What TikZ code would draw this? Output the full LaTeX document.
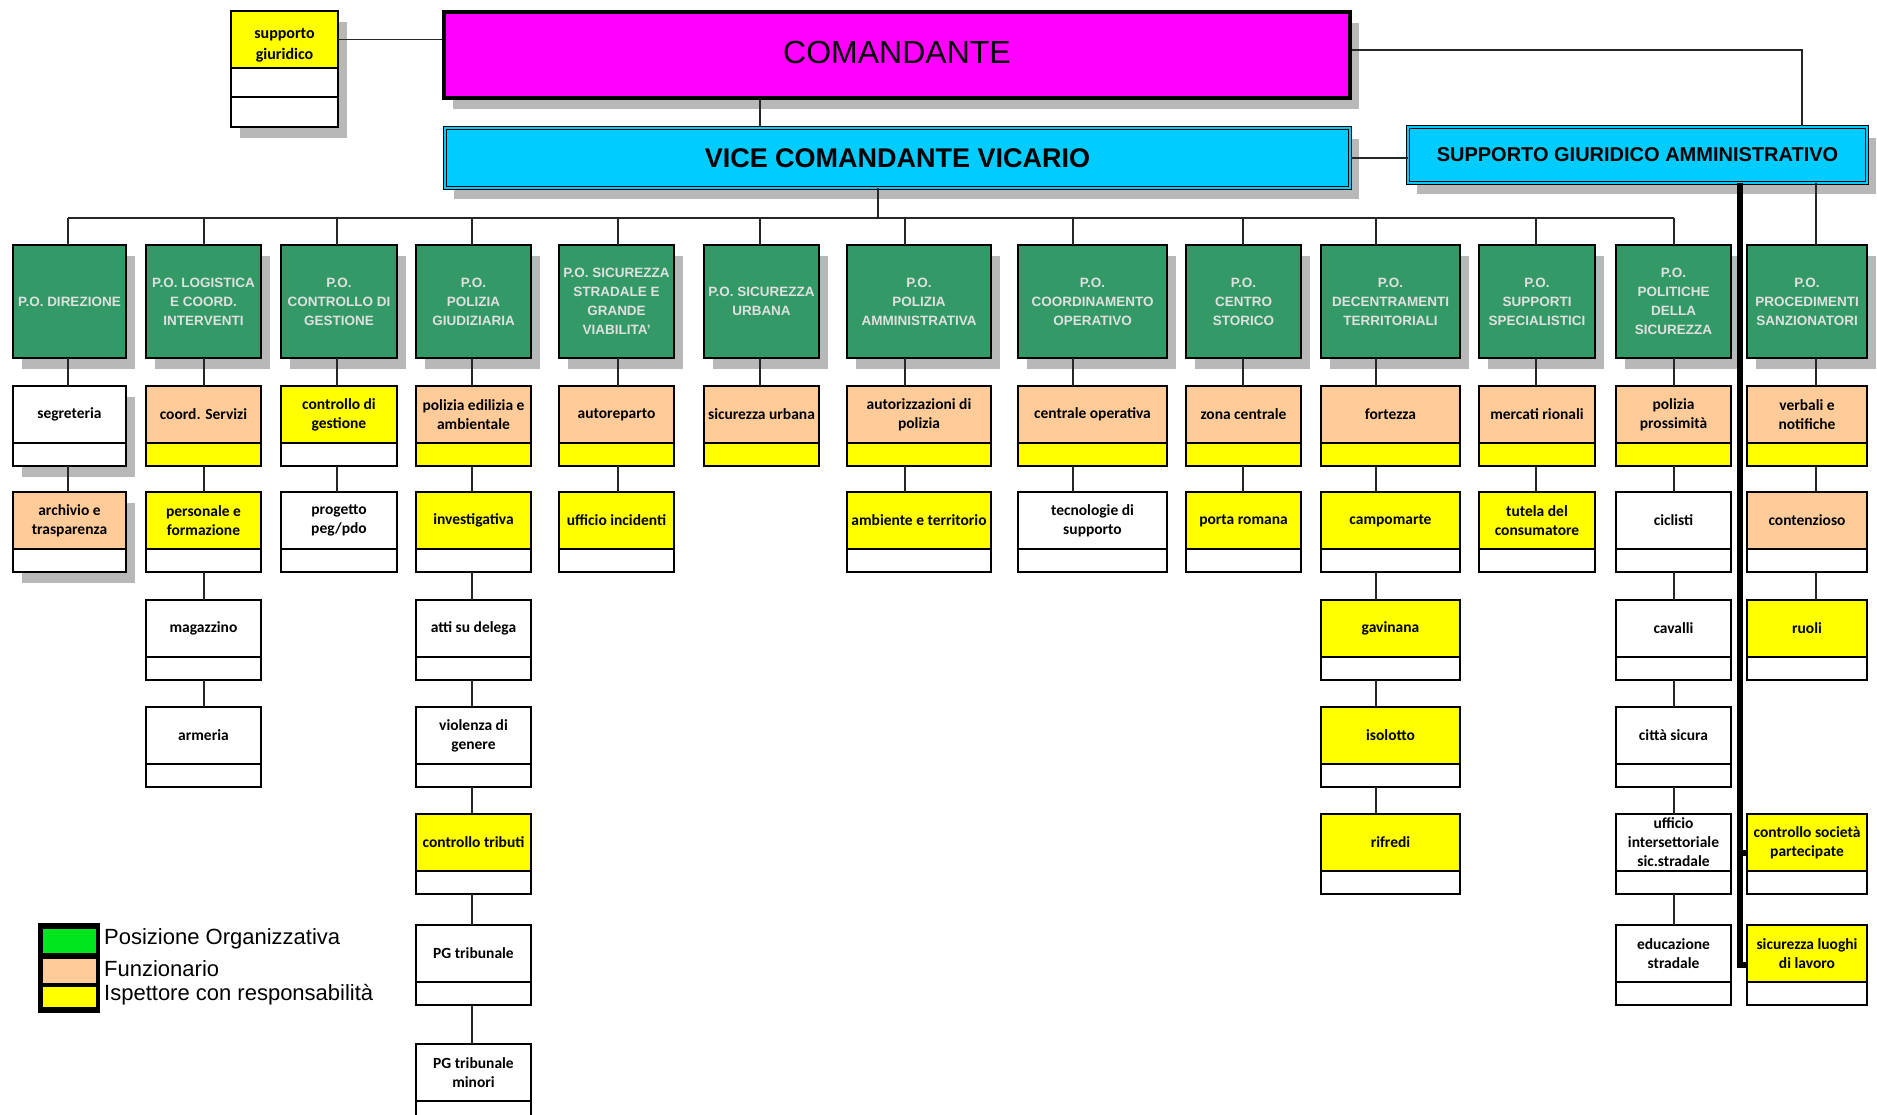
\documentclass[tikz,border=0pt]{standalone}
\usepackage{fontspec}
\setmainfont{Liberation Sans}
\newfontfamily\calibfont{Carlito}
\usetikzlibrary{shadows}
\definecolor{pogreen}{RGB}{51,153,102}
\definecolor{peach}{RGB}{255,204,153}
\definecolor{hiyellow}{RGB}{255,255,0}
\definecolor{magentabox}{RGB}{255,0,255}
\definecolor{cyanbox}{RGB}{0,204,255}
\definecolor{leggreen}{RGB}{0,230,30}

\tikzset{
  conn/.style={draw=black!85, line width=1.5pt},
  thickline/.style={draw=black, line width=6pt},
  boxshadow/.style={drop shadow={shadow xshift=9pt, shadow yshift=-11pt, fill=black!28, opacity=1}},
  pobox/.style={draw=black, line width=1.5pt, fill=pogreen, text=white!88!black, align=center,
    font=\bfseries\fontsize{13.5}{19}\selectfont, minimum height=113, inner sep=0pt, outer sep=0pt, boxshadow},
  mainpart/.style={draw=black, line width=1.5pt, anchor=north, minimum height=57, inner sep=0pt, outer sep=0pt,
    align=center, font=\calibfont\bfseries\fontsize{15.5}{19}\selectfont},
  strippart/.style={draw=black, line width=1.5pt, anchor=north, minimum height=23, inner sep=0pt, outer sep=0pt},
  legtext/.style={anchor=west, inner sep=0pt, font=\fontsize{22}{24}\selectfont},
}

% sub-unit: [opts]{name}{x}{width}{ytop}{fill}{strip fill}{text}
\newcommand{\orgbox}[8][]{%
  \node[mainpart, fill=#6, minimum width=#4, #1] (#2) at (#3,#5) {#8};
  \node[strippart, fill=#7, minimum width=#4, #1] (#2s) at (#2.south) {};
}

\begin{document}
\begin{tikzpicture}[x=1pt, y=-1pt]
\useasboundingbox (0,0) rectangle (1877,1115);
\fill[white] (0,0) rectangle (1877,1115);

% Top
\node[draw, line width=4pt, fill=magentabox, minimum width=906, minimum height=86, text depth=6pt,
  font=\fontsize{32}{36}\selectfont, boxshadow] (cmd) at (897,55) {COMANDANTE};
\node[draw=black, double=cyanbox, double distance=2pt, line width=1pt, fill=cyanbox,
  minimum width=905, minimum height=60, font=\bfseries\fontsize{27}{30}\selectfont, boxshadow] (vice) at (897.5,158) {VICE COMANDANTE VICARIO};
\node[draw=black, double=cyanbox, double distance=2pt, line width=1pt, fill=cyanbox,
  minimum width=459, minimum height=56, font=\bfseries\fontsize{20}{24}\selectfont, boxshadow] (sga) at (1637.5,155) {SUPPORTO GIURIDICO AMMINISTRATIVO};
\node[mainpart, fill=hiyellow, minimum width=107, boxshadow,
  label={[align=center, inner sep=0pt, yshift=-6pt, font=\calibfont\bfseries\fontsize{16}{21}\selectfont]center:supporto\\giuridico}] (sg) at (284.5,11) {};
\node[strippart, fill=white, minimum width=107, minimum height=29, boxshadow] (sgs) at (sg.south) {};
\node[strippart, fill=white, minimum width=107, minimum height=30, boxshadow] (sgt) at (sgs.south) {};

% P.O. boxes
\foreach \i/\cx/\w/\dx/\txt in {
  1/69.5/113/68/{P.O. DIREZIONE},
  2/203.5/115/204/{P.O. LOGISTICA\\E COORD.\\INTERVENTI},
  3/339/116/337/{P.O.\\CONTROLLO DI\\GESTIONE},
  4/473.5/115/472/{P.O.\\POLIZIA\\GIUDIZIARIA},
  5/616.5/115/618/{P.O. SICUREZZA\\STRADALE E\\GRANDE\\VIABILITA'},
  6/761.5/115/760/{P.O. SICUREZZA\\URBANA},
  7/919/144/905/{P.O.\\POLIZIA\\AMMINISTRATIVA},
  8/1092.5/149/1073/{P.O.\\COORDINAMENTO\\OPERATIVO},
  9/1243.5/115/1243/{P.O.\\CENTRO\\STORICO},
  10/1390.5/139/1376/{P.O.\\DECENTRAMENTI\\TERRITORIALI},
  11/1537/116/1536/{P.O.\\SUPPORTI\\SPECIALISTICI},
  12/1673.5/115/1674/{P.O.\\POLITICHE\\DELLA\\SICUREZZA},
  13/1807/120/1816/{P.O.\\PROCEDIMENTI\\SANZIONATORI}}{
  \node[pobox, minimum width=\w] (g\i) at (\cx,301.5) {\txt};
  \coordinate (k\i) at (\dx,218);
}

% Units
\orgbox[boxshadow]{seg}{69.5}{113}{386}{white}{white}{segreteria}
\orgbox[boxshadow]{arch}{69.5}{113}{492}{peach}{white}{archivio e\\trasparenza}
\orgbox{coord}{203.5}{115}{386}{peach}{hiyellow}{coord. Servizi}
\orgbox{pers}{203.5}{115}{492}{hiyellow}{white}{personale e\\formazione}
\orgbox{mag}{203.5}{115}{600}{white}{white}{magazzino}
\orgbox{arm}{203.5}{115}{707}{white}{white}{armeria}
\orgbox{cdg}{339}{116}{386}{hiyellow}{white}{controllo di\\gestione}
\orgbox{peg}{339}{116}{492}{white}{white}{progetto\\peg/pdo}
\orgbox{edil}{473.5}{115}{386}{peach}{hiyellow}{polizia edilizia e\\ambientale}
\orgbox{inv}{473.5}{115}{492}{hiyellow}{white}{investigativa}
\orgbox{atti}{473.5}{115}{600}{white}{white}{atti su delega}
\orgbox{viol}{473.5}{115}{707}{white}{white}{violenza di\\genere}
\orgbox{trib}{473.5}{115}{814}{hiyellow}{white}{controllo tributi}
\orgbox{pgt}{473.5}{115}{925}{white}{white}{PG tribunale}
\orgbox{pgm}{473.5}{115}{1044}{white}{white}{PG tribunale\\minori}
\orgbox{autor}{616.5}{115}{386}{peach}{hiyellow}{autoreparto}
\orgbox{inc}{616.5}{115}{492}{hiyellow}{white}{ufficio incidenti}
\orgbox{securb}{761.5}{115}{386}{peach}{hiyellow}{sicurezza urbana}
\orgbox{autpol}{919}{144}{386}{peach}{hiyellow}{autorizzazioni di\\polizia}
\orgbox{amb}{919}{144}{492}{hiyellow}{white}{ambiente e territorio}
\orgbox{centr}{1092.5}{149}{386}{peach}{hiyellow}{centrale operativa}
\orgbox{tecn}{1092.5}{149}{492}{white}{white}{tecnologie di\\supporto}
\orgbox{zona}{1243.5}{115}{386}{peach}{hiyellow}{zona centrale}
\orgbox{porta}{1243.5}{115}{492}{hiyellow}{white}{porta romana}
\orgbox{fort}{1390.5}{139}{386}{peach}{hiyellow}{fortezza}
\orgbox{campo}{1390.5}{139}{492}{hiyellow}{white}{campomarte}
\orgbox{gavi}{1390.5}{139}{600}{hiyellow}{white}{gavinana}
\orgbox{isol}{1390.5}{139}{707}{hiyellow}{white}{isolotto}
\orgbox{rifr}{1390.5}{139}{814}{hiyellow}{white}{rifredi}
\orgbox{merc}{1537}{116}{386}{peach}{hiyellow}{mercati rionali}
\orgbox{tutela}{1537}{116}{492}{hiyellow}{white}{tutela del\\consumatore}
\orgbox{pross}{1673.5}{115}{386}{peach}{hiyellow}{polizia\\prossimità}
\orgbox{cicl}{1673.5}{115}{492}{white}{white}{ciclisti}
\orgbox{cav}{1673.5}{115}{600}{white}{white}{cavalli}
\orgbox{citta}{1673.5}{115}{707}{white}{white}{città sicura}
\orgbox{uff}{1673.5}{115}{814}{white}{white}{ufficio\\intersettoriale\\sic.stradale}
\orgbox{edu}{1673.5}{115}{925}{white}{white}{educazione\\stradale}
\orgbox{verb}{1807}{120}{386}{peach}{hiyellow}{verbali e\\notifiche}
\orgbox{cont}{1807}{120}{492}{peach}{white}{contenzioso}
\orgbox{ruoli}{1807}{120}{600}{hiyellow}{white}{ruoli}
\orgbox{soc}{1807}{120}{814}{hiyellow}{white}{controllo società\\partecipate}
\orgbox{luoghi}{1807}{120}{925}{hiyellow}{white}{sicurezza luoghi\\di lavoro}

% Connectors
\coordinate (cv) at (760,0);
\coordinate (cs) at (1802,0);
\coordinate (vb) at (878,218);
\coordinate (tk) at (1740,0);
\draw[conn] (sg.east) -- (sg.east -| cmd.west);
\draw[conn] (cmd.south -| cv) -- (vice.north -| cv);
\draw[conn] ([yshift=5pt]cmd.east) -| (sga.north -| cs);
\draw[conn] (vice.east) -- (vice.east -| sga.west);
\draw[conn] (vice.south -| vb) -- (vb);
\draw[conn] (k1) -- (k12);
\foreach \i in {1,...,12}
  \draw[conn] (k\i) -- (g\i.north -| k\i);
\draw[conn] (sga.south -| k13) -- (g13.north -| k13);
\foreach \a/\b/\k in {g1/seg/1, segs/arch/1,
  g2/coord/2, coords/pers/2, perss/mag/2, mags/arm/2,
  g3/cdg/3, cdgs/peg/3,
  g4/edil/4, edils/inv/4, invs/atti/4, attis/viol/4, viols/trib/4, tribs/pgt/4, pgts/pgm/4,
  g5/autor/5, autors/inc/5, g6/securb/6, g7/autpol/7, autpols/amb/7,
  g8/centr/8, centrs/tecn/8, g9/zona/9, zonas/porta/9,
  g10/fort/10, forts/campo/10, campos/gavi/10, gavis/isol/10, isols/rifr/10,
  g11/merc/11, mercs/tutela/11,
  g12/pross/12, prosss/cicl/12, cicls/cav/12, cavs/citta/12, cittas/uff/12, uffs/edu/12,
  g13/verb/13, verbs/cont/13, conts/ruoli/13}
  \draw[conn] (\a.south -| k\k) -- (\b.north -| k\k);
\coordinate (socin) at ([yshift=-10pt]soc.west);
\coordinate (luoin) at ([yshift=-11pt]luoghi.west);
\draw[thickline] (sga.south -| tk) |- (luoin);
\draw[thickline] (tk |- socin) -- (socin);

% Legend
\node[fill=black, minimum width=62, minimum height=90, anchor=north west, inner sep=0pt] (leg) at (38,923) {};
\node[fill=leggreen, minimum width=53, minimum height=24, anchor=north west, inner sep=0pt] (lgreen) at (43,929) {};
\node[fill=peach, minimum width=53, minimum height=24, anchor=north west, inner sep=0pt] (lpeach) at (43,959) {};
\node[fill=hiyellow, minimum width=53, minimum height=20, anchor=north west, inner sep=0pt] (lyellow) at (43,987) {};
\node[legtext] (lt1) at (104,939) {Posizione Organizzativa};
\node[legtext] (lt2) at (104,969) {Funzionario};
\node[legtext] (lt3) at (104,995) {Ispettore con responsabilità};
\end{tikzpicture}
\end{document}
